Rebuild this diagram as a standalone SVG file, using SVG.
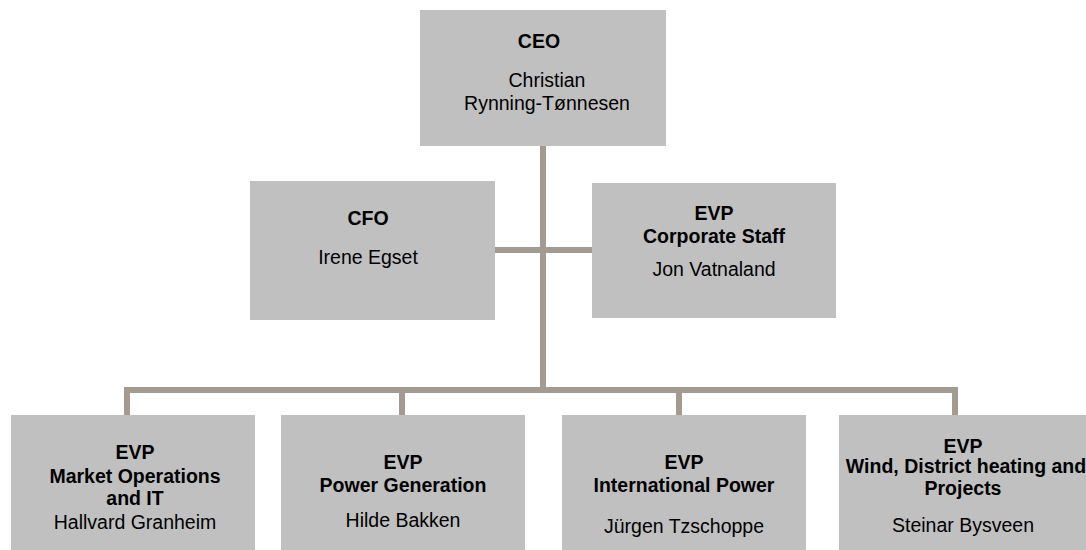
<svg xmlns="http://www.w3.org/2000/svg" width="1086" height="550" viewBox="0 0 1086 550">
<style>
.box{fill:#c0c0c0}
.conn{stroke:#a39a91;stroke-width:6;fill:none}
text{font-family:"Liberation Sans",Arial,sans-serif;font-size:19.5px;fill:#000;text-anchor:middle}
.b{font-weight:bold}
</style>
<rect width="1086" height="550" fill="#fff"/>
<g id="connectors">
<line class="conn" x1="543" y1="146" x2="543" y2="393"/>
<line class="conn" x1="495" y1="250" x2="592" y2="250"/>
<polyline class="conn" points="127,415 127,390 955,390 955,415"/>
<line class="conn" x1="402" y1="390" x2="402" y2="415"/>
<line class="conn" x1="679" y1="390" x2="679" y2="415"/>
</g>
<g id="ceo">
<rect class="box" x="420" y="10" width="246" height="136"/>
<text class="b" x="539" y="48">CEO</text>
<text x="547" y="87">Christian</text>
<text x="547" y="110">Rynning-Tønnesen</text>
</g>
<g id="cfo">
<rect class="box" x="250" y="181" width="245" height="139"/>
<text class="b" x="368" y="225">CFO</text>
<text x="368" y="264">Irene Egset</text>
</g>
<g id="corporate-staff">
<rect class="box" x="592" y="183" width="244" height="135"/>
<text class="b" x="714" y="220">EVP</text>
<text class="b" x="714" y="243">Corporate Staff</text>
<text x="714" y="276">Jon Vatnaland</text>
</g>
<g id="market-operations">
<rect class="box" x="11" y="415" width="244" height="140"/>
<text class="b" x="135" y="459">EVP</text>
<text class="b" x="135" y="483">Market Operations</text>
<text class="b" x="135" y="505">and IT</text>
<text x="135" y="529">Hallvard Granheim</text>
</g>
<g id="power-generation">
<rect class="box" x="281" y="415" width="244" height="140"/>
<text class="b" x="403" y="469">EVP</text>
<text class="b" x="403" y="492">Power Generation</text>
<text x="403" y="527">Hilde Bakken</text>
</g>
<g id="international-power">
<rect class="box" x="562" y="415" width="244" height="140"/>
<text class="b" x="684" y="469">EVP</text>
<text class="b" x="684" y="492">International Power</text>
<text x="684" y="533">Jürgen Tzschoppe</text>
</g>
<g id="wind-district-heating">
<rect class="box" x="839" y="415" width="250" height="140"/>
<text class="b" x="963" y="453">EVP</text>
<text class="b" x="966" y="473">Wind, District heating and</text>
<text class="b" x="963" y="495">Projects</text>
<text x="963" y="532">Steinar Bysveen</text>
</g>
</svg>
